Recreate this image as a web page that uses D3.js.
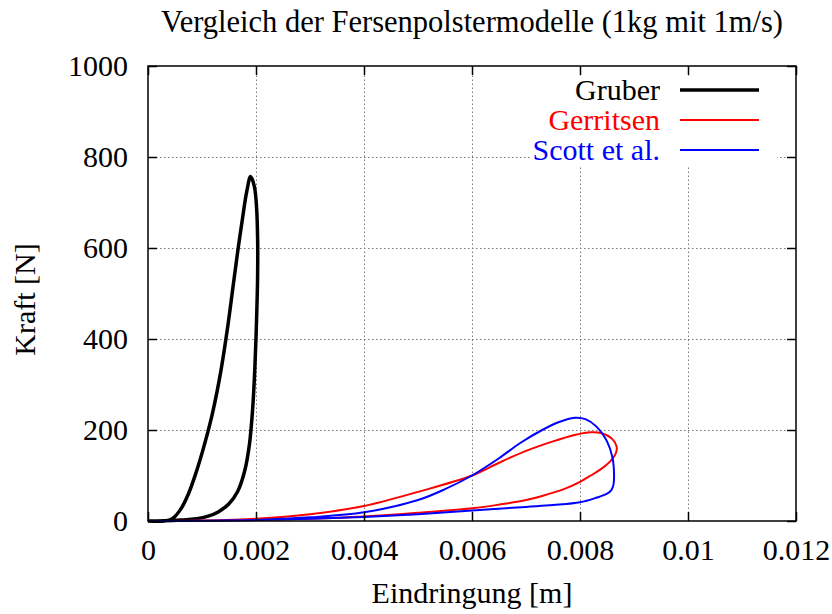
<!DOCTYPE html>
<html>
<head>
<meta charset="utf-8">
<script src="https://cdn.jsdelivr.net/npm/d3@7"></script>
<style>
  body { margin: 0; background: #fff; }
  svg text { font-family: "Liberation Serif", "Times New Roman", serif; }
  .grid line { stroke: #777; stroke-dasharray: 1.5,2.5; }
  .grid path { display: none; }
</style>
</head>
<body>
<div class="chart-container"></div>
<script>
const width = 832;
const height = 614;
const margin = {top: 66, right: 36, bottom: 93, left: 148};

const xTicks = [0, 0.002, 0.004, 0.006, 0.008, 0.01, 0.012];
const yTicks = [0, 200, 400, 600, 800, 1000];

const seriesNames = ['Gruber', 'Gerritsen', 'Scott et al.'];
const seriesColors = ['#000', '#f00', '#00f'];
const seriesWidths = [3.5, 2, 2];

// hysteresis loops, [Eindringung in m, Kraft in N], loading then unloading
const gruber = [
  [0, 0], [0.0003, 0], [0.00045, 5], [0.0006, 25], [0.00075, 60],
  [0.0009, 110], [0.00105, 170], [0.0012, 240], [0.00135, 330],
  [0.00148, 430], [0.00158, 520], [0.00167, 600], [0.00175, 665],
  [0.00183, 725], [0.0019, 757],
  [0.00197, 735], [0.00201, 690], [0.00203, 620], [0.00203, 540],
  [0.00201, 440], [0.00198, 340], [0.00194, 250], [0.00188, 170],
  [0.00179, 110], [0.00166, 65], [0.0015, 38], [0.0013, 20],
  [0.0011, 10], [0.0009, 5], [0.0006, 2], [0.0003, 0.5], [0, 0]
];

const gerritsen = [
  [0, 0], [0.001, 1], [0.002, 5], [0.003, 15], [0.004, 33], [0.005, 64],
  [0.006, 100], [0.0065, 128], [0.007, 154], [0.0075, 175], [0.0079, 189],
  [0.0082, 195], [0.0084, 193], [0.0086, 180], [0.00868, 163],
  [0.00866, 148], [0.00855, 130], [0.0084, 115], [0.0082, 100],
  [0.008, 86], [0.0077, 70], [0.0073, 55], [0.007, 46], [0.0065, 36],
  [0.006, 28], [0.005, 18], [0.004, 10], [0.003, 5], [0.002, 2],
  [0.001, 0.5], [0, 0]
];

const scott = [
  [0, 0], [0.001, 0.5], [0.002, 2], [0.003, 8], [0.004, 19], [0.005, 46],
  [0.0055, 70], [0.006, 100], [0.0065, 138], [0.0069, 172], [0.0073, 200],
  [0.0076, 217], [0.0079, 227], [0.0081, 224], [0.0083, 208],
  [0.0085, 175], [0.0086, 140], [0.00863, 105], [0.00862, 80],
  [0.00858, 68], [0.0085, 60], [0.0083, 51], [0.008, 41], [0.0075, 35],
  [0.007, 31], [0.006, 23], [0.005, 15], [0.004, 9], [0.003, 5],
  [0.002, 2], [0.001, 0.5], [0, 0]
];

const series = [gruber, gerritsen, scott];

const innerW = width - margin.left - margin.right;
const innerH = height - margin.top - margin.bottom;

const x = d3.scaleLinear().domain([0, 0.012]).range([0, innerW]);
const y = d3.scaleLinear().domain([0, 1000]).range([innerH, 0]);

const svg = d3.select('.chart-container')
  .append('svg')
  .attr('width', width)
  .attr('height', height);

const g = svg.append('g')
  .attr('transform', `translate(${margin.left},${margin.top})`);

// dotted grid, skipping the lines that sit on the border
g.append('g')
  .attr('class', 'grid')
  .attr('transform', `translate(0,${innerH})`)
  .call(d3.axisBottom(x).tickValues(xTicks.slice(1, -1)).tickSize(-innerH).tickFormat(''));

g.append('g')
  .attr('class', 'grid')
  .call(d3.axisLeft(y).tickValues(yTicks.slice(1, -1)).tickSize(-innerW).tickFormat(''));

// opaque legend box
g.append('rect')
  .attr('x', 382)
  .attr('y', 10)
  .attr('width', 247)
  .attr('height', 90)
  .attr('fill', '#fff');

const line = d3.line()
  .x(d => x(d[0]))
  .y(d => y(d[1]))
  .curve(d3.curveCatmullRom.alpha(0.5));

g.selectAll('.curve')
  .data(series)
  .enter()
  .append('path')
  .attr('class', 'curve')
  .attr('fill', 'none')
  .attr('stroke', (d, i) => seriesColors[i])
  .attr('stroke-width', (d, i) => seriesWidths[i])
  .attr('stroke-linejoin', 'round')
  .attr('d', line);

// axes with inward ticks, mirrored on top and right
const fmt = d => String(+d.toFixed(3));

const xAxis = g.append('g')
  .attr('transform', `translate(0,${innerH})`)
  .call(d3.axisBottom(x).tickValues(xTicks).tickSize(-9).tickPadding(18).tickFormat(fmt));

const yAxis = g.append('g')
  .call(d3.axisLeft(y).tickValues(yTicks).tickSize(-9).tickPadding(20).tickFormat(fmt));

const xTop = g.append('g')
  .call(d3.axisTop(x).tickValues(xTicks).tickSize(-9).tickFormat(''));

const yRight = g.append('g')
  .attr('transform', `translate(${innerW},0)`)
  .call(d3.axisRight(y).tickValues(yTicks).tickSize(-9).tickFormat(''));

[xAxis, yAxis, xTop, yRight].forEach(a => {
  a.select('.domain').remove();
  a.selectAll('line').attr('stroke', '#000').attr('stroke-width', 1.5);
  a.selectAll('text')
    .attr('fill', '#000')
    .style('font-size', '30px')
    .style('font-family', '"Liberation Serif", "Times New Roman", serif');
});

g.append('rect')
  .attr('width', innerW)
  .attr('height', innerH)
  .attr('fill', 'none')
  .attr('stroke', '#000')
  .attr('stroke-width', 1.5);

// legend
const legend = g.selectAll('.legend')
  .data(seriesNames)
  .enter()
  .append('g')
  .attr('class', 'legend')
  .attr('transform', (d, i) => `translate(0,${24 + i * 30})`);

legend.append('text')
  .attr('x', 512)
  .attr('y', 10)
  .attr('text-anchor', 'end')
  .attr('fill', (d, i) => seriesColors[i])
  .style('font-size', '30px')
  .text(d => d);

legend.append('line')
  .attr('x1', 532)
  .attr('x2', 611)
  .attr('stroke', (d, i) => seriesColors[i])
  .attr('stroke-width', (d, i) => seriesWidths[i]);

// titles
svg.append('text')
  .attr('x', margin.left + innerW / 2)
  .attr('y', 32)
  .attr('text-anchor', 'middle')
  .style('font-size', '30.5px')
  .text('Vergleich der Fersenpolstermodelle (1kg mit 1m/s)');

svg.append('text')
  .attr('x', margin.left + innerW / 2)
  .attr('y', 603)
  .attr('text-anchor', 'middle')
  .style('font-size', '30px')
  .text('Eindringung [m]');

svg.append('text')
  .attr('transform', `translate(35,${margin.top + innerH / 2 + 6}) rotate(-90)`)
  .attr('text-anchor', 'middle')
  .style('font-size', '30px')
  .text('Kraft [N]');
</script>
</body>
</html>
